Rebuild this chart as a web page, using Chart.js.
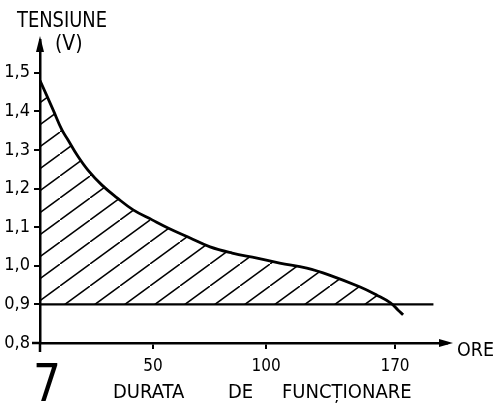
<!DOCTYPE html>
<html>
<head>
<meta charset="utf-8">
<script src="https://cdn.jsdelivr.net/npm/chart.js@4"></script>
<style>
  body { margin: 0; background: #fff; }
  #wrap { position: relative; width: 500px; height: 407px; }
</style>
</head>
<body>
<div id="wrap"><canvas id="chart"></canvas></div>
<script>
// Discharge curve (hours on axis, volts)
const hours   = [0, 5.8, 9.7, 12.4, 16.4, 21.2, 27.4, 34.1, 41.2, 49.6, 56.6, 66.4, 75.2, 85, 96, 106, 118, 128, 141.6, 149, 155, 158.4, 160.6];
const voltage = [1.48, 1.404, 1.352, 1.326, 1.287, 1.248, 1.209, 1.176, 1.145, 1.119, 1.098, 1.072, 1.049, 1.033, 1.020, 1.007, 0.994, 0.976, 0.945, 0.924, 0.904, 0.885, 0.873];

// cut-off line at 0.9 V
const cutoffHours = [0, 174];
const cutoffVolts = [0.9, 0.9];

// ticks
const yTicks = [0.8, 0.9, 1.0, 1.1, 1.2, 1.3, 1.4, 1.5];
const xTickPos = [50, 100, 157];
const xTickLabels = ['50', '100', '170'];

const FONT = "'Liberation Sans Narrow', 'DejaVu Sans Condensed', 'Liberation Sans', sans-serif";

// diagonal hatching for the area under the curve
function makeHatch() {
    const c = document.createElement('canvas');
    c.width = 30;
    c.height = 22;
    const g = c.getContext('2d');
    g.strokeStyle = '#000';
    g.lineWidth = 1.5;
    g.beginPath();
    g.moveTo(-3, 24.2);
    g.lineTo(33, -2.2);
    g.stroke();
    return g.createPattern(c, 'repeat');
}

const decorations = {
    id: 'decorations',
    afterDraw(chart) {
        const ctx = chart.ctx;
        const a = chart.chartArea;
        ctx.save();
        ctx.fillStyle = '#000';
        ctx.strokeStyle = '#000';
        ctx.lineWidth = 2.5;

        // small overshoot of the axes past the origin
        ctx.beginPath();
        ctx.moveTo(a.left, a.bottom);
        ctx.lineTo(a.left, a.bottom + 9);
        ctx.moveTo(a.left - 8, a.bottom);
        ctx.lineTo(a.left, a.bottom);
        ctx.stroke();

        // arrow heads
        ctx.beginPath();
        ctx.moveTo(a.left, a.top - 4);
        ctx.lineTo(a.left - 4, a.top + 12);
        ctx.lineTo(a.left + 4, a.top + 12);
        ctx.closePath();
        ctx.fill();

        ctx.beginPath();
        ctx.moveTo(a.right + 6, a.bottom);
        ctx.lineTo(a.right - 8, a.bottom - 4);
        ctx.lineTo(a.right - 8, a.bottom + 4);
        ctx.closePath();
        ctx.fill();

        // texts
        ctx.textBaseline = 'middle';
        ctx.textAlign = 'left';
        ctx.font = '22px ' + FONT;
        ctx.fillText('TENSIUNE', 17, 21, 90);
        ctx.font = '21px ' + FONT;
        ctx.fillText('(V)', 55, 45, 33);
        ctx.font = '20px ' + FONT;
        ctx.fillText('ORE', 457, 351, 37);
        ctx.font = '20px ' + FONT;
        ctx.fillText('DURATA', 113, 393, 84);
        ctx.fillText('DE', 228, 393, 28);
        ctx.fillText('FUNCȚIONARE', 282, 393, 158);
        ctx.font = '52px ' + FONT;
        ctx.fillText('7', 33, 387, 28);
        ctx.restore();
    }
};

function initChart() {
    const ctx = document.getElementById('chart');
    const hatch = makeHatch();

    new Chart(ctx, {
        type: 'line',
        data: {
            datasets: [{
                label: 'Tensiune',
                data: hours.map((h, i) => ({ x: h, y: voltage[i] })),
                borderColor: '#000',
                borderWidth: 2.8,
                pointRadius: 0,
                tension: 0.4,
                fill: { target: { value: 0.9 }, above: hatch, below: 'rgba(0,0,0,0)' }
            }, {
                label: 'Limita',
                data: cutoffHours.map((h, i) => ({ x: h, y: cutoffVolts[i] })),
                borderColor: '#000',
                borderWidth: 2.2,
                pointRadius: 0,
                fill: false
            }]
        },
        options: {
            responsive: true,
            maintainAspectRatio: false,
            animation: false,
            layout: { padding: { top: 40, right: 53, left: 0, bottom: 0 } },
            plugins: {
                legend: { display: false },
                tooltip: { enabled: false }
            },
            scales: {
                x: {
                    type: 'linear',
                    min: 0,
                    max: 180,
                    afterFit: scale => { scale.height = 64; },
                    afterBuildTicks: scale => { scale.ticks = xTickPos.map(v => ({ value: v })); },
                    border: { color: '#000', width: 2.5 },
                    grid: { drawOnChartArea: false, tickLength: 6, color: '#000', lineWidth: 2 },
                    ticks: {
                        color: '#000',
                        padding: 7,
                        maxRotation: 0,
                        autoSkip: false,
                        font: { family: FONT, size: 17 },
                        callback: value => xTickLabels[xTickPos.indexOf(value)]
                    }
                },
                y: {
                    min: 0.8,
                    max: 1.585,
                    afterFit: scale => { scale.width = 40; },
                    afterBuildTicks: scale => { scale.ticks = yTicks.map(v => ({ value: v })); },
                    border: { color: '#000', width: 2.5 },
                    grid: { drawOnChartArea: false, tickLength: 6, color: '#000', lineWidth: 2 },
                    ticks: {
                        color: '#000',
                        padding: 4,
                        autoSkip: false,
                        font: { family: FONT, size: 18 },
                        callback: value => value.toFixed(1).replace('.', ',')
                    }
                }
            }
        },
        plugins: [decorations]
    });
}

initChart();
</script>
</body>
</html>
